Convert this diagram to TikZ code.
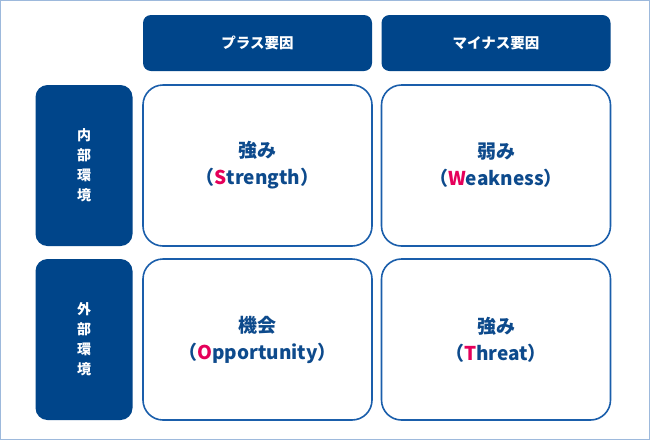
\documentclass[tikz,border=0pt]{standalone}
\usepackage{fontspec}
\setmainfont{Noto Sans CJK JP}
\definecolor{navy}{HTML}{00458A}
\definecolor{cellline}{HTML}{1A5EAB}
\definecolor{celltext}{HTML}{0D4A8C}
\definecolor{initial}{HTML}{E5005A}
\definecolor{frame}{HTML}{9DB9DC}
\newcommand{\ini}[1]{\textcolor{initial}{#1}}
\tikzset{
  hdr/.style={fill=navy,rounded corners=8pt,minimum width=229pt,minimum height=56pt,
    inner sep=0pt,text=white,font=\bfseries\fontsize{14.5}{16}\selectfont},
  side/.style={fill=navy,rounded corners=12pt,minimum width=97pt,minimum height=161pt,
    inner sep=0pt,text=white,align=center,font=\bfseries\fontsize{14}{20}\selectfont},
  cell/.style={draw=cellline,line width=1.6pt,fill=white,rounded corners=20pt,
    minimum width=229pt,minimum height=161pt,inner sep=0pt,text=celltext,align=center,
    font=\bfseries\fontsize{19}{27}\selectfont}
}
\begin{document}
\begin{tikzpicture}[x=1pt,y=-1pt]
\useasboundingbox (0,0) rectangle (650,440);
\fill[white] (0,0) rectangle (650,440);
\draw[frame,line width=1pt] (0.5,0.5) rectangle (649.5,439.5);

% column headers
\node[hdr] (plus) at (257.5,43) {プラス要因};
\node[hdr] (minus) at (496,43) {マイナス要因};

% row headers
\node[side] (inner) at (84,165.5) {内\\部\\環\\境};
\node[side] (outer) at (84,339.5) {外\\部\\環\\境};

% matrix
\node[cell] (str) at (257.5,165.5) {強み\\（\ini{S}trength）};
\node[cell] (weak) at (496,165.5) {弱み\\（\ini{W}eakness）};
\node[cell] (opp) at (257.5,339.5) {機会\\（\ini{O}pportunity）};
\node[cell] (thr) at (496,339.5) {強み\\（\ini{T}hreat）};
\end{tikzpicture}
\end{document}
